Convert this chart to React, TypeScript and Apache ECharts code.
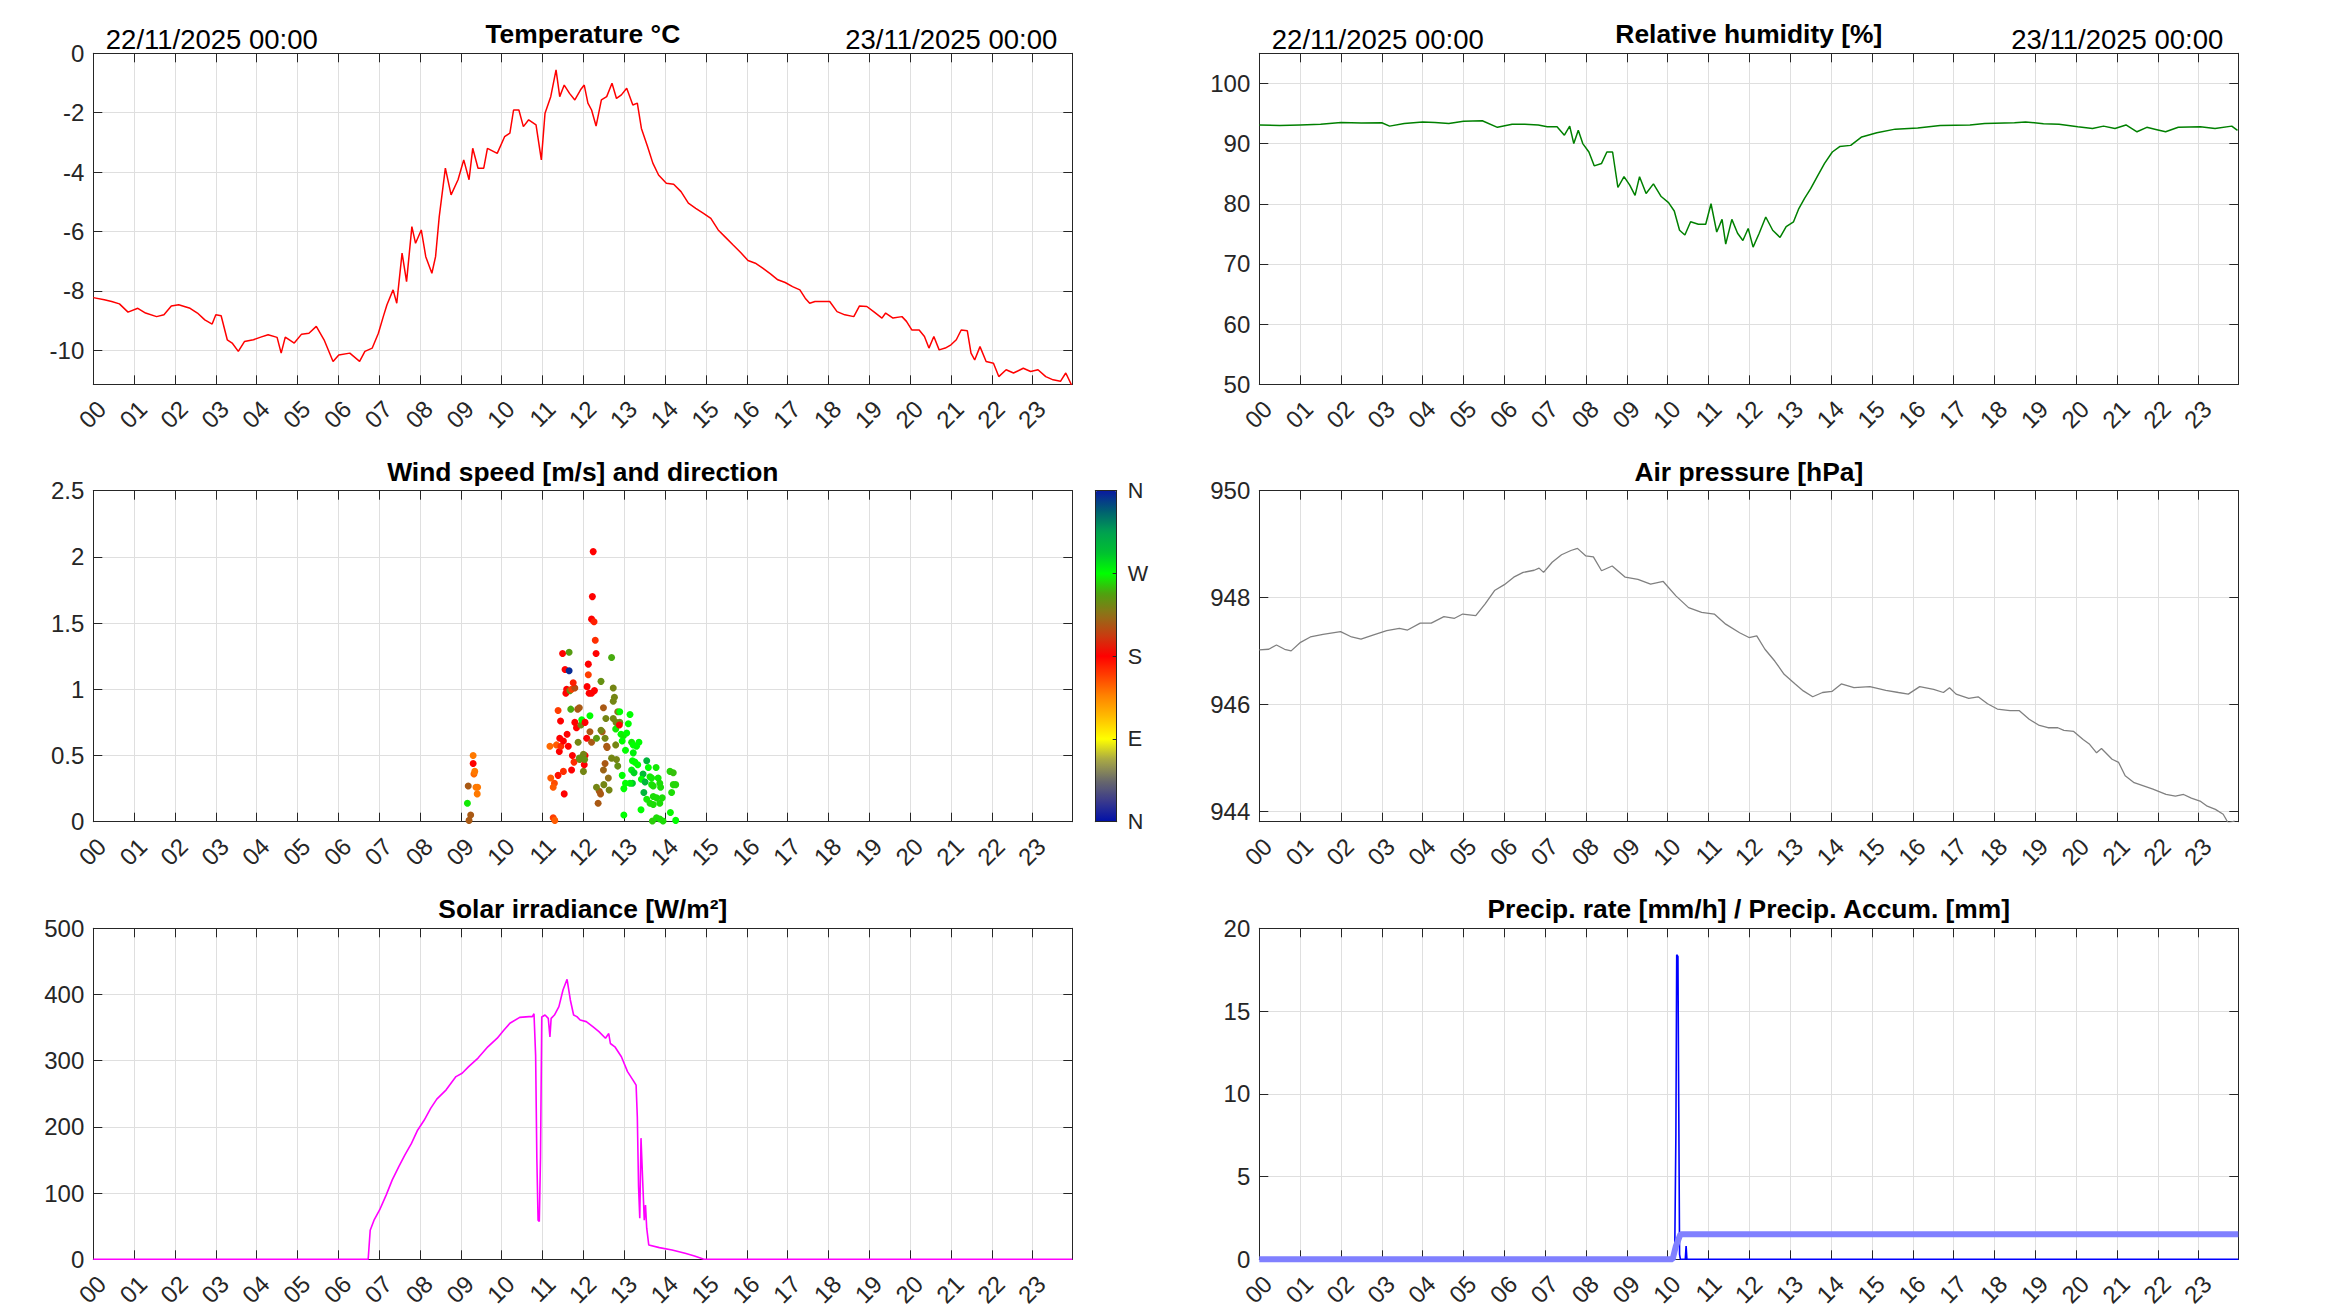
import React, { useEffect, useRef } from 'react';
import * as echarts from 'echarts';

// ---------------- DATA ----------------
const hourLabels = ['00','01','02','03','04','05','06','07','08','09','10','11','12','13','14','15','16','17','18','19','20','21','22','23'];
const X_MAX = 23.97;

const dateStart = '22/11/2025 00:00';
const dateEnd = '23/11/2025 00:00';

const tempTicks = [-10, -8, -6, -4, -2, 0];
const humTicks = [50, 60, 70, 80, 90, 100];
const windTicks = [0, 0.5, 1, 1.5, 2, 2.5];
const presTicks = [944, 946, 948, 950];
const solarTicks = [0, 100, 200, 300, 400, 500];
const precipTicks = [0, 5, 10, 15, 20];
const dirTicks = [0, 90, 180, 270, 360];
const dirLabels = ['N', 'E', 'S', 'W', 'N'];

// [hour, °C]
const temperature: [number, number][] = [
  [0,-8.23],[0.27,-8.3],[0.45,-8.36],[0.64,-8.44],[0.85,-8.72],[1.09,-8.59],[1.28,-8.75],[1.55,-8.87],[1.73,-8.81],[1.91,-8.51],
  [2.09,-8.47],[2.37,-8.59],[2.55,-8.75],[2.73,-8.98],[2.91,-9.12],[3.0,-8.81],[3.13,-8.84],[3.28,-9.65],[3.4,-9.76],[3.55,-10.04],
  [3.7,-9.71],[3.92,-9.65],[4.1,-9.56],[4.28,-9.48],[4.5,-9.57],[4.6,-10.1],[4.7,-9.56],[4.92,-9.76],[5.1,-9.46],[5.28,-9.43],
  [5.46,-9.2],[5.65,-9.65],[5.87,-10.38],[6.01,-10.16],[6.28,-10.1],[6.52,-10.38],[6.65,-10.04],[6.83,-9.93],[6.98,-9.43],[7.1,-8.87],
  [7.19,-8.47],[7.34,-7.97],[7.43,-8.42],[7.56,-6.73],[7.67,-7.69],[7.8,-5.84],[7.89,-6.4],[8.03,-5.95],[8.14,-6.85],[8.29,-7.41],
  [8.38,-6.85],[8.47,-5.5],[8.62,-3.87],[8.76,-4.77],[8.93,-4.26],[9.07,-3.59],[9.2,-4.26],[9.29,-3.2],[9.42,-3.87],[9.56,-3.87],
  [9.65,-3.2],[9.89,-3.37],[10.07,-2.81],[10.2,-2.69],[10.29,-1.91],[10.42,-1.91],[10.53,-2.47],[10.66,-2.24],[10.84,-2.41],[10.97,-3.59],
  [11.06,-2.02],[11.2,-1.46],[11.33,-0.56],[11.42,-1.46],[11.53,-1.07],[11.66,-1.35],[11.79,-1.57],[11.93,-1.23],[12.02,-1.07],[12.11,-1.68],
  [12.2,-1.91],[12.31,-2.45],[12.44,-1.57],[12.57,-1.46],[12.7,-1.01],[12.81,-1.52],[12.93,-1.4],[13.06,-1.18],[13.21,-1.74],[13.32,-1.68],
  [13.42,-2.53],[13.57,-3.14],[13.7,-3.7],[13.84,-4.1],[14.03,-4.38],[14.21,-4.41],[14.39,-4.66],[14.57,-5.05],[14.75,-5.22],[14.94,-5.39],
  [15.12,-5.56],[15.3,-5.95],[15.48,-6.2],[15.66,-6.45],[15.85,-6.71],[16.03,-6.98],[16.21,-7.07],[16.39,-7.24],[16.58,-7.43],[16.76,-7.63],
  [16.94,-7.72],[17.12,-7.86],[17.3,-7.97],[17.43,-8.25],[17.54,-8.42],[17.67,-8.36],[17.85,-8.36],[18.03,-8.36],[18.21,-8.7],[18.4,-8.81],
  [18.62,-8.87],[18.76,-8.51],[18.94,-8.53],[19.13,-8.73],[19.31,-8.92],[19.4,-8.75],[19.58,-8.92],[19.8,-8.87],[19.91,-9.03],[20.04,-9.32],
  [20.22,-9.32],[20.35,-9.54],[20.46,-9.93],[20.58,-9.54],[20.71,-9.99],[20.86,-9.93],[21.0,-9.82],[21.13,-9.65],[21.25,-9.32],[21.4,-9.35],
  [21.49,-10.1],[21.58,-10.33],[21.71,-9.88],[21.86,-10.38],[22.04,-10.44],[22.17,-10.89],[22.35,-10.66],[22.53,-10.77],[22.77,-10.61],[22.95,-10.72],
  [23.13,-10.66],[23.32,-10.89],[23.5,-11.0],[23.68,-11.05],[23.81,-10.77],[23.95,-11.17]
];

// [hour, %]
const humidity: [number, number][] = [
  [0,93.07],[0.5,93.0],[1.0,93.1],[1.5,93.2],[2.0,93.5],[2.5,93.4],[3.0,93.45],[3.19,92.9],[3.55,93.35],[4.0,93.6],
  [4.3,93.5],[4.64,93.35],[5.0,93.7],[5.46,93.8],[5.83,92.7],[6.19,93.2],[6.5,93.2],[6.83,93.1],[7.05,92.8],[7.29,92.8],
  [7.47,91.4],[7.6,92.9],[7.7,90.0],[7.81,92.2],[7.92,90.0],[8.07,88.6],[8.2,86.3],[8.38,86.7],[8.51,88.6],[8.65,88.6],
  [8.78,82.7],[8.93,84.5],[9.07,83.1],[9.2,81.4],[9.31,84.5],[9.47,81.7],[9.65,83.3],[9.84,81.2],[10.02,80.2],[10.16,78.8],
  [10.29,75.6],[10.42,74.8],[10.56,77.0],[10.75,76.6],[10.93,76.6],[11.06,80.0],[11.2,75.3],[11.33,77.4],[11.42,73.3],[11.57,77.4],
  [11.71,75.1],[11.84,73.9],[11.97,75.9],[12.09,72.8],[12.24,75.1],[12.4,77.8],[12.57,75.6],[12.75,74.4],[12.9,76.2],[13.08,77.0],
  [13.21,79.2],[13.35,80.9],[13.5,82.5],[13.66,84.5],[13.84,86.7],[14.03,88.6],[14.21,89.5],[14.48,89.7],[14.75,91.1],[15.12,91.8],
  [15.57,92.4],[16.12,92.6],[16.67,93.0],[17.4,93.1],[17.76,93.35],[18.49,93.45],[18.76,93.6],[19.2,93.3],[19.58,93.2],[20.04,92.8],
  [20.4,92.5],[20.67,92.9],[20.95,92.5],[21.22,93.1],[21.49,91.96],[21.73,92.7],[21.95,92.35],[22.19,91.96],[22.5,92.7],[23.04,92.8],
  [23.4,92.5],[23.81,92.9],[23.95,92.2]
];

// [hour, m/s, direction °]
const wind: [number, number, number][] = [
  [9.20,0.01,215],[9.24,0.05,215],[9.16,0.14,265],[9.18,0.27,215],[9.41,0.26,140],[9.37,0.26,140],[9.40,0.21,140],[9.32,0.36,145],
  [9.34,0.38,140],[9.30,0.44,180],[9.30,0.50,140],[11.26,0.03,160],[11.30,0.01,150],[11.20,0.33,150],[11.29,0.29,155],[11.26,0.26,150],
  [11.53,0.21,180],[11.38,0.35,175],[11.51,0.38,165],[11.18,0.57,145],[11.34,0.58,150],[11.41,0.53,180],[11.45,0.57,165],[11.51,0.61,180],
  [11.60,0.66,180],[11.63,0.57,180],[11.42,0.63,180],[11.73,0.50,180],[11.71,0.39,180],[11.77,0.45,165],[11.91,0.47,235],[12.00,0.38,235],
  [12.02,0.43,180],[12.04,0.50,180],[12.00,0.51,235],[11.87,0.60,235],[12.08,0.63,180],[12.20,0.60,215],[12.16,0.68,215],[12.32,0.63,245],
  [11.44,0.76,180],[11.38,0.84,160],[11.69,0.85,250],[11.79,0.75,180],[11.83,0.71,180],[11.94,0.73,235],[11.96,0.77,270],[12.04,0.75,180],
  [11.86,0.85,215],[11.90,0.86,215],[12.16,0.80,270],[11.57,0.97,180],[11.59,1.00,180],[11.67,0.99,240],[11.71,1.00,160],[11.79,1.01,210],
  [11.75,1.05,170],[11.55,1.15,180],[11.65,1.14,355],[11.49,1.27,180],[11.65,1.28,245],[12.09,1.02,180],[12.14,0.97,180],[12.20,0.97,180],
  [12.27,0.99,180],[12.12,1.11,160],[12.12,1.19,180],[12.31,1.27,180],[12.29,1.37,165],[12.20,1.53,180],[12.26,1.51,170],[12.22,1.70,180],
  [12.24,2.04,180],[12.69,1.24,250],[12.43,1.06,240],[12.73,1.01,235],[12.73,0.91,235],[12.76,0.94,235],[12.49,0.86,215],[12.55,0.78,235],
  [12.73,0.78,235],[12.80,0.75,235],[12.89,0.75,235],[12.84,0.83,225],[12.89,0.83,270],[12.46,0.68,215],[12.43,0.69,235],[12.53,0.63,235],
  [12.57,0.57,215],[12.58,0.56,215],[12.79,0.58,235],[12.79,0.70,265],[12.88,0.73,180],[12.92,0.66,270],[12.98,0.65,265],[13.06,0.67,270],
  [13.10,0.74,270],[13.14,0.81,270],[12.95,0.61,270],[13.03,0.54,270],[13.18,0.60,265],[13.22,0.58,270],[13.30,0.57,270],[13.36,0.60,270],
  [13.22,0.52,275],[12.69,0.48,235],[12.81,0.47,235],[12.84,0.42,240],[12.53,0.44,215],[12.49,0.39,220],[13.20,0.46,270],[13.26,0.45,270],
  [13.18,0.39,275],[13.24,0.37,285],[13.33,0.43,270],[13.55,0.46,300],[13.59,0.41,270],[13.78,0.41,265],[13.46,0.36,295],[13.42,0.32,270],
  [13.51,0.30,300],[13.63,0.34,265],[13.67,0.33,265],[13.83,0.33,265],[13.20,0.29,290],[13.14,0.29,275],[13.03,0.29,270],[12.95,0.35,270],
  [12.99,0.25,270],[14.12,0.38,260],[14.20,0.37,255],[14.20,0.28,260],[14.26,0.28,260],[14.16,0.22,262],[13.89,0.26,262],[13.87,0.29,262],
  [13.67,0.28,265],[13.71,0.27,262],[13.48,0.22,300],[13.55,0.17,265],[13.63,0.14,262],[13.71,0.19,262],[13.79,0.18,262],[13.87,0.14,262],
  [13.71,0.13,262],[13.93,0.18,262],[13.41,0.09,270],[12.99,0.05,270],[13.69,0.005,258],[13.79,0.03,262],[13.87,0.02,262],[13.95,0.005,262],
  [14.13,0.07,268],[14.26,0.01,270],[12.36,0.14,215],[12.39,0.23,215],[12.42,0.21,215],[12.32,0.26,235],[12.50,0.28,235],[12.63,0.24,235],
  [12.61,0.33,225],[11.90,0.48,240],[12.03,0.47,240]
];

// [hour, hPa]
const pressure: [number, number][] = [
  [0,947.02],[0.23,947.03],[0.42,947.11],[0.62,947.03],[0.78,947.0],[1.01,947.16],[1.25,947.26],[1.56,947.31],[1.99,947.36],[2.26,947.26],
  [2.49,947.22],[2.8,947.3],[3.12,947.38],[3.43,947.42],[3.63,947.39],[3.94,947.52],[4.21,947.52],[4.52,947.64],[4.78,947.61],[4.98,947.69],
  [5.3,947.66],[5.53,947.88],[5.76,948.13],[6.0,948.24],[6.23,948.38],[6.46,948.47],[6.73,948.51],[6.85,948.55],[6.96,948.47],[7.17,948.66],
  [7.4,948.8],[7.63,948.88],[7.79,948.92],[7.99,948.78],[8.18,948.76],[8.38,948.5],[8.64,948.59],[8.96,948.38],[9.27,948.34],[9.58,948.25],
  [9.89,948.3],[10.2,948.03],[10.51,947.81],[10.83,947.72],[11.14,947.69],[11.42,947.5],[11.76,947.34],[11.99,947.25],[12.18,947.28],[12.38,947.03],
  [12.62,946.81],[12.85,946.56],[13.12,946.38],[13.32,946.25],[13.55,946.14],[13.79,946.22],[14.02,946.24],[14.25,946.38],[14.56,946.31],[14.95,946.33],
  [15.34,946.26],[15.65,946.22],[15.89,946.19],[16.17,946.33],[16.51,946.28],[16.75,946.22],[16.9,946.31],[17.06,946.19],[17.37,946.11],[17.6,946.14],
  [17.83,946.01],[18.07,945.91],[18.38,945.88],[18.61,945.88],[18.85,945.72],[19.08,945.61],[19.31,945.56],[19.55,945.56],[19.7,945.51],[19.94,945.49],
  [20.17,945.34],[20.33,945.25],[20.5,945.09],[20.62,945.17],[20.88,944.97],[21.04,944.91],[21.2,944.66],[21.42,944.53],[21.65,944.47],[21.88,944.41],
  [22.2,944.31],[22.43,944.28],[22.63,944.31],[22.82,944.24],[23.05,944.18],[23.21,944.09],[23.41,944.03],[23.6,943.94],[23.72,943.78],[23.88,943.81]
];

// [hour, W/m²]
const solar: [number, number][] = [
  [0,0],[6.73,0],[6.78,44],[6.88,60],[7.01,74.5],[7.17,97],[7.32,120],[7.48,140],[7.63,157.6],[7.79,175],
  [7.94,195],[8.1,210],[8.26,228],[8.41,242],[8.64,256],[8.88,276],[9.03,281],[9.19,291],[9.42,304],[9.66,321],
  [9.89,334],[10.05,346],[10.2,356.5],[10.44,365.5],[10.67,366.6],[10.75,366.6],[10.79,371],[10.83,308],[10.86,152],[10.89,59],
  [10.92,57],[10.95,155],[10.98,366],[11.06,369],[11.14,364],[11.18,336],[11.21,364],[11.29,369],[11.4,381.7],[11.5,406.8],
  [11.6,423],[11.68,391.7],[11.76,369],[11.84,366.6],[11.92,361.5],[12.07,359],[12.23,351.5],[12.38,344],[12.54,334],[12.62,341],
  [12.66,326],[12.77,321],[12.93,306],[13.08,283.5],[13.21,271],[13.29,263],[13.32,215],[13.35,110],[13.38,62],[13.41,183],
  [13.46,105],[13.49,59],[13.52,82],[13.55,47],[13.6,21.7],[13.86,17.6],[14.17,14],[14.49,9],[14.72,5],[14.95,0],[23.97,0]
];

// [hour, mm/h]
const precipRate: [number, number][] = [
  [0,0],[10.17,0],[10.2,7.6],[10.22,18.4],[10.25,18.3],[10.27,9.2],[10.29,0.3],[10.31,0],[10.43,0],[10.45,0.8],[10.47,0],[23.97,0]
];
// [hour, mm]
const precipAccum: [number, number][] = [
  [0,0],[10.12,0],[10.2,0.8],[10.31,1.51],[23.97,1.51]
];

// ---------------- STYLE / LAYOUT ----------------
const FONT = '"Liberation Sans", Arial, Helvetica, sans-serif';
const AX = '#262626';
const GRIDC = '#dfdfdf';
const LEFTS = [93.3, 1259.3];
const TOPS = [53.3, 490.7, 928.3];
const PW = 979;
const PH = 331;

const dirColors = [
  '#0010a8','#3a3a8c','#6a6a6a','#a8a845','#ffff00','#ffc000','#ff8800','#ff4400','#ff0000',
  '#c83c10','#907018','#50a010','#00ff00','#00c030','#00a050','#006070','#0a1aa0'
];

type Panel = {
  col: number; row: number; title: string;
  min: number; max: number; interval?: number; splitNumber?: number; ticks: number[];
};

const panels: Panel[] = [
  { col: 0, row: 0, title: 'Temperature °C', min: -11.15, max: 0, splitNumber: 6, ticks: tempTicks },
  { col: 1, row: 0, title: 'Relative humidity [%]', min: 50, max: 105, interval: 10, ticks: humTicks },
  { col: 0, row: 1, title: 'Wind speed [m/s] and direction', min: 0, max: 2.5, interval: 0.5, ticks: windTicks },
  { col: 1, row: 1, title: 'Air pressure [hPa]', min: 943.8, max: 950, splitNumber: 3, ticks: presTicks },
  { col: 0, row: 2, title: 'Solar irradiance [W/m²]', min: 0, max: 500, interval: 100, ticks: solarTicks },
  { col: 1, row: 2, title: 'Precip. rate [mm/h] / Precip. Accum. [mm]', min: 0, max: 20, interval: 5, ticks: precipTicks },
];

function tickFormatter(ticks: number[]) {
  return (v: number) => {
    const t = ticks.find((x) => Math.abs(x - v) < 1e-6);
    return t === undefined ? '' : String(t);
  };
}

function hourFormatter(v: number) {
  const i = Math.round(v);
  return Math.abs(v - i) < 1e-6 && i >= 0 && i < 24 ? hourLabels[i] : '';
}

function buildOption() {
  const grid: any[] = [];
  const xAxis: any[] = [];
  const yAxis: any[] = [];
  const graphic: any[] = [];

  panels.forEach((p, i) => {
    const left = LEFTS[p.col];
    const top = TOPS[p.row];
    grid.push({ left, top, width: PW, height: PH, containLabel: false });
    const lineAx = { show: true, onZero: false, lineStyle: { color: AX, width: 1 } };
    const tickAx = { show: true, inside: true, length: 9, lineStyle: { color: AX, width: 1 } };
    xAxis.push({
      type: 'value', gridIndex: i, min: 0, max: X_MAX, interval: 1, position: 'bottom',
      axisLine: lineAx, axisTick: tickAx,
      axisLabel: {
        formatter: hourFormatter, rotate: 45, fontSize: 24, color: AX, fontFamily: FONT,
        margin: 12, align: 'right', verticalAlign: 'top',
      },
      splitLine: { show: true, lineStyle: { color: GRIDC, width: 1 } },
    });
    xAxis.push({
      type: 'value', gridIndex: i, min: 0, max: X_MAX, interval: 1, position: 'top',
      axisLine: lineAx, axisTick: tickAx, axisLabel: { show: false }, splitLine: { show: false },
    });
    const yBase: any = { type: 'value', gridIndex: i, min: p.min, max: p.max, scale: true };
    if (p.interval !== undefined) yBase.interval = p.interval;
    if (p.splitNumber !== undefined) yBase.splitNumber = p.splitNumber;
    yAxis.push({
      ...yBase, position: 'left', axisLine: lineAx, axisTick: tickAx,
      axisLabel: { formatter: tickFormatter(p.ticks), fontSize: 24, color: AX, fontFamily: FONT, margin: 9 },
      splitLine: { show: true, lineStyle: { color: GRIDC, width: 1 } },
    });
    yAxis.push({
      ...yBase, position: 'right', axisLine: lineAx, axisTick: tickAx,
      axisLabel: { show: false }, splitLine: { show: false },
    });
    graphic.push({
      type: 'text', x: left + PW / 2, y: top - 19.1, z: 10,
      style: { text: p.title, font: `bold 26.4px ${FONT}`, fill: '#000000', align: 'center', verticalAlign: 'middle' },
    });
    if (p.row === 0) {
      graphic.push({
        type: 'text', x: left + 12.5, y: 39.5, z: 10,
        style: { text: dateStart, font: `27.5px ${FONT}`, fill: '#000000', align: 'left', verticalAlign: 'middle' },
      });
      graphic.push({
        type: 'text', x: left + PW - 15, y: 39.5, z: 10,
        style: { text: dateEnd, font: `27.5px ${FONT}`, fill: '#000000', align: 'right', verticalAlign: 'middle' },
      });
    }
  });

  // colorbar grid (index 6)
  const cbLeft = 1095.3, cbTop = TOPS[1], cbW = 21.4;
  grid.push({ left: cbLeft, top: cbTop, width: cbW, height: PH });
  const cbLine = { show: true, onZero: false, lineStyle: { color: AX, width: 1 } };
  xAxis.push({ type: 'value', gridIndex: 6, min: 0, max: 1, position: 'bottom', z: 10, axisLine: cbLine, axisTick: { show: false }, axisLabel: { show: false }, splitLine: { show: false } });
  xAxis.push({ type: 'value', gridIndex: 6, min: 0, max: 1, position: 'top', z: 10, axisLine: cbLine, axisTick: { show: false }, axisLabel: { show: false }, splitLine: { show: false } });
  yAxis.push({ type: 'value', gridIndex: 6, min: 0, max: 360, interval: 90, position: 'left', z: 10, axisLine: cbLine, axisTick: { show: false }, axisLabel: { show: false }, splitLine: { show: false } });
  yAxis.push({
    type: 'value', gridIndex: 6, min: 0, max: 360, interval: 90, position: 'right', z: 10,
    axisLine: cbLine, axisTick: { show: true, inside: true, length: 4, lineStyle: { color: AX } },
    axisLabel: {
      formatter: (v: number) => { const k = dirTicks.indexOf(v); return k < 0 ? '' : dirLabels[k]; },
      fontSize: 21.6, color: AX, fontFamily: FONT, margin: 11,
    },
    splitLine: { show: false },
  });

  const lineBase = { type: 'line', showSymbol: false, symbol: 'none', smooth: false, animation: false };

  const series: any[] = [
    { ...lineBase, name: 'temp', xAxisIndex: 0, yAxisIndex: 0, data: temperature, lineStyle: { color: '#ff0000', width: 1.5 } },
    { ...lineBase, name: 'hum', xAxisIndex: 2, yAxisIndex: 2, data: humidity, lineStyle: { color: '#008000', width: 1.5 } },
    { type: 'scatter', name: 'wind', xAxisIndex: 4, yAxisIndex: 4, data: wind, symbol: 'circle', symbolSize: 7, itemStyle: { opacity: 1 } },
    { ...lineBase, name: 'pres', xAxisIndex: 6, yAxisIndex: 6, data: pressure, lineStyle: { color: '#808080', width: 1.3 } },
    { ...lineBase, name: 'solar', xAxisIndex: 8, yAxisIndex: 8, data: solar, clip: false, lineStyle: { color: '#ff00ff', width: 1.6 } },
    { ...lineBase, name: 'rate', xAxisIndex: 10, yAxisIndex: 10, data: precipRate, clip: false, z: 2, lineStyle: { color: '#0000ff', width: 1.6 } },
    { ...lineBase, name: 'accum', xAxisIndex: 10, yAxisIndex: 10, data: precipAccum, clip: false, z: 3, lineStyle: { color: '#8080ff', width: 6 } },
    { ...lineBase, name: 'cb', xAxisIndex: 12, yAxisIndex: 13, data: [] },
  ];

  return {
    animation: false,
    backgroundColor: '#ffffff',
    textStyle: { fontFamily: FONT },
    grid, xAxis, yAxis, series, graphic,
    visualMap: [{
      type: 'continuous', seriesIndex: 2, dimension: 2, min: 0, max: 360,
      orient: 'vertical', left: cbLeft, top: cbTop, itemWidth: cbW, itemHeight: PH,
      padding: 0, calculable: false, realtime: false, hoverLink: false, showLabel: false,
      text: null, inRange: { color: dirColors }, z: 4,
    }],
  };
}

export default function App() {
  const ref = useRef<HTMLDivElement>(null);
  useEffect(() => {
    document.body.style.margin = '0';
    document.body.style.overflow = 'hidden';
    if (!ref.current) return;
    const chart = echarts.init(ref.current, undefined, { renderer: 'svg' });
    chart.setOption(buildOption() as any);
    return () => chart.dispose();
  }, []);
  return <div ref={ref} style={{ width: 2333, height: 1313, background: '#fff' }} />;
}
